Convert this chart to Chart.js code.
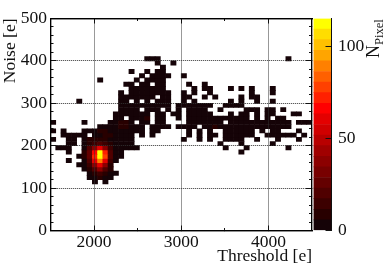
<!DOCTYPE html>
<html><head><meta charset="utf-8">
<script src="https://cdn.jsdelivr.net/npm/chart.js@4/dist/chart.umd.js"></script>
<style>
html,body{margin:0;padding:0;background:#fff;overflow:hidden}
#wrap{position:relative;width:390px;height:265px}
canvas{position:absolute;left:0;top:0}
#ztitle{position:absolute;left:360px;top:14px;height:44px;width:26px;writing-mode:vertical-rl;transform:rotate(180deg);font:18px "Liberation Serif",serif;color:#111;line-height:26px;white-space:nowrap;text-align:left}
#ztitle span{font-size:12.5px;position:relative;left:-6px}
</style></head><body>
<div id="wrap"><canvas id="c" width="390" height="265"></canvas><canvas id="z" width="390" height="265"></canvas>
<div id="ztitle">N<span>Pixel</span></div></div>
<script>
const thresholdStart = 1500, thresholdBinWidth = 60, binCount = 50;
const noiseBinWidth = 10;
const xMajorTicks = [2000, 3000, 4000];
const xMinorTicks = [2500, 3500];
const yMajorTicks = [0, 100, 200, 300, 400, 500];
const zTicks = [0, 50, 100];
const zMax = 115;
const palette = ['#150307','#280000','#3c0000','#500000','#640000','#780000','#8c0000','#a00000','#b80000','#d00000','#e40000','#ff0000','#ff2000','#ff4000','#ff6000','#ff8000','#ffa500','#ffc000','#ffdd00','#ffff00'];
// Noise bin index of each row
const noiseRows = [40,39,38,37,36,35,34,33,32,31,30,29,28,27,26,25,24,23,22,21,20,19,18,17,16,15,14,13,12,11];
// occupied threshold bins in each row, as from,to pairs
const rowRuns = [
 [18,20,45,45],
 [20,20,23,23],
 [21,21],
 [15,15,18,18,20,21],
 [17,17,19,22,25,25],
 [9,9,16,16,18,21],
 [14,15,17,18,20,21,26,26,29,29],
 [15,21,27,27,29,30,34,34,36,36,38,38,42,42],
 [13,13,15,22,25,25,27,27,30,30,38,38,42,42],
 [13,19,21,22,25,26,29,29,31,31,36,36,38,39],
 [5,5,13,14,16,16,18,18,20,22,25,25,27,27,34,34,36,36,39,39,42,42],
 [13,22,24,30,33,36],
 [13,16,18,20,22,22,24,24,26,29,32,32,37,39,41,42,44,44],
 [12,18,20,21,23,24,26,30,34,34,36,37,39,39,41,42,46,47],
 [12,13,15,18,20,21,24,24,26,37,39,39,41,41,43,44],
 [0,0,6,6,11,15,17,18,20,21,26,32,34,45,47,49],
 [9,17,19,22,24,27,29,45],
 [0,0,2,2,6,17,19,20,26,26,28,28,30,30,33,38,40,40,42,43,47,47],
 [2,6,8,15,17,17,19,19,26,26,28,28,30,31,33,38,41,46,48,48],
 [0,0,3,4,6,15,25,25,28,28,30,30,33,36,39,39,43,43,47,47],
 [3,4,6,15,32,32,36,36,42,42],
 [1,3,6,16,33,33,37,37,45,45],
 [3,3,6,13,36,36],
 [5,13],
 [3,3,6,12],
 [5,11],
 [6,11],
 [7,12],
 [7,11],
 [8,8,10,10]
];
const typicalCount = 2;
// counts around the peak
const peakCols = [5,6,7,8,9,10,11,12,13];
const peakRows = [21,20,19,18,17,16,15,14,13,12];
const peakCounts = [
 [0,3,6,8,10,8,5,3,2],
 [0,3,10,15,22,14,8,4,2],
 [0,5,18,35,62,35,14,5,2],
 [0,6,24,65,110,72,20,5,1],
 [1,6,26,72,112,78,20,4,1],
 [0,4,18,58,90,62,14,3,0],
 [1,3,14,40,58,35,10,0,0],
 [0,2,8,22,38,20,6,0,0],
 [0,0,4,10,16,8,3,1,0],
 [0,0,2,5,6,3,1,0,0]
];
// slightly raised cells: row, column, count
const warmCells = [[25,13,8],[25,14,8],[24,13,8],[24,14,9],[24,31,9],[26,18,6],[23,9,8],[23,10,8],[22,10,7],[22,11,7]];

function colorFor(v){return palette[Math.min(palette.length-1,Math.floor(v/(zMax/palette.length)))];}
const thresholdBins = Array.from({length:binCount},(_,i)=>thresholdStart+i*thresholdBinWidth);
function cellValue(r,c){
  const pr=peakRows.indexOf(r), pc=peakCols.indexOf(c);
  if(pr>=0&&pc>=0&&peakCounts[pr][pc]>0) return peakCounts[pr][pc];
  const w=warmCells.find(a=>a[0]===r&&a[1]===c);
  return w?w[2]:typicalCount;
}
const datasets = noiseRows.map((r,i)=>{
  const data=new Array(binCount).fill(null), colors=new Array(binCount).fill('rgba(0,0,0,0)');
  const runs=rowRuns[i];
  for(let k=0;k<runs.length;k+=2)for(let c=runs[k];c<=runs[k+1];c++){
    data[c]=[r*noiseBinWidth,(r+1)*noiseBinWidth];
    colors[c]=colorFor(cellValue(r,c));
  }
  return {label:'Noise '+r*noiseBinWidth,data,backgroundColor:colors,borderWidth:0,xAxisID:'xCat',yAxisID:'y'};
});
const FONT={family:'"Liberation Serif",serif',size:17.5};
const TITLEFONT={family:'"Liberation Serif",serif',size:17.5,lineHeight:1};
const INK='#111';
const L=50.5,R=78,T=18.5,B=34.5;
const major=(ticks)=>(s)=>{s.ticks=ticks.map(v=>({value:v}));};
function sizer(prop,val){return s=>{s[prop]=val;s.paddingTop=0;s.paddingBottom=0;s.paddingLeft=0;s.paddingRight=0;};}
function axis(o){return Object.assign({type:'linear',display:true,offset:false},o);}
function gridOpts(len,lines){return {z:1,offset:false,drawOnChartArea:lines,drawTicks:true,tickLength:len,tickColor:INK,tickWidth:1,color:'#333',lineWidth:1};}
const bord=(dash)=>({display:true,color:'#000',width:1.2,z:2,dash:dash||[]});
const noLabels={display:false};
new Chart(document.getElementById('c'),{
  type:'bar',
  data:{labels:thresholdBins,datasets},
  options:{
    responsive:false,animation:false,events:[],devicePixelRatio:1,
    layout:{padding:0},
    plugins:{legend:{display:false},tooltip:{enabled:false}},
    datasets:{bar:{grouped:false,barPercentage:1,categoryPercentage:1}},
    scales:{
      xCat:{type:'category',display:false,position:'bottom',offset:true},
      x:axis({position:'bottom',weight:1,min:1500,max:4500,afterBuildTicks:major(xMajorTicks),afterFit:sizer('height',B),
        grid:gridOpts(-5,true),border:bord([1,1]),
        ticks:{font:FONT,color:INK,padding:6,maxRotation:0,autoSkip:false,callback:v=>String(v)},
        title:{display:true,text:'Threshold [e]',align:'end',font:TITLEFONT,color:INK,padding:{top:0,bottom:0}}}),
      xMinor:axis({position:'bottom',weight:0,min:1500,max:4500,afterBuildTicks:major(xMinorTicks),afterFit:sizer('height',0),
        grid:gridOpts(-2.5,false),border:bord(),ticks:noLabels}),
      xTop:axis({position:'top',weight:1,min:1500,max:4500,afterBuildTicks:major(xMajorTicks),afterFit:sizer('height',T),
        grid:gridOpts(-5,false),border:bord(),ticks:noLabels}),
      xTopMinor:axis({position:'top',weight:0,min:1500,max:4500,afterBuildTicks:major(xMinorTicks),afterFit:sizer('height',0),
        grid:gridOpts(-2.5,false),border:bord(),ticks:noLabels}),
      y:axis({position:'left',weight:1,min:0,max:500,afterBuildTicks:major(yMajorTicks),afterFit:sizer('width',L),
        grid:gridOpts(-6,true),border:bord([1,1]),
        ticks:{font:FONT,color:INK,padding:9.5,autoSkip:false,callback:v=>String(v)},
        title:{display:true,text:'Noise [e]',align:'end',font:FONT,color:INK,padding:{top:0,bottom:0}}}),
      yMinor:axis({position:'left',weight:0,min:0,max:500,afterFit:sizer('width',0),ticks:{display:false,stepSize:20},
        grid:gridOpts(-3,false),border:bord()}),
      yRight:axis({position:'right',weight:1,min:0,max:500,afterBuildTicks:major(yMajorTicks),afterFit:sizer('width',R),
        grid:gridOpts(-6,false),border:bord(),ticks:noLabels}),
      yRightMinor:axis({position:'right',weight:0,min:0,max:500,afterFit:sizer('width',0),ticks:{display:false,stepSize:20},
        grid:gridOpts(-3,false),border:bord()})
    }
  }
});
const zStep=zMax/palette.length;
new Chart(document.getElementById('z'),{
  type:'bar',
  data:{labels:['z'],datasets:palette.map((col,i)=>({label:'band '+i,data:[[i*zStep,(i+1)*zStep]],backgroundColor:col,borderWidth:0,xAxisID:'zx',yAxisID:'zy'}))},
  options:{
    responsive:false,animation:false,events:[],devicePixelRatio:1,layout:{padding:0},
    plugins:{legend:{display:false},tooltip:{enabled:false}},
    datasets:{bar:{grouped:false,barPercentage:1,categoryPercentage:1}},
    scales:{
      zx:{type:'category',display:false,offset:true},
      zTopPad:axis({position:'top',min:0,max:1,afterFit:sizer('height',T),grid:{display:false},border:{display:false},ticks:{display:false}}),
      zBotPad:axis({position:'bottom',min:0,max:1,afterFit:sizer('height',B),grid:{display:false},border:{display:false},ticks:{display:false}}),
      zLeftPad:axis({position:'left',min:0,max:1,afterFit:sizer('width',313.5),grid:{display:false},border:{display:false},ticks:{display:false}}),
      zy:axis({position:'right',min:0,max:zMax,grace:0,beginAtZero:false,afterBuildTicks:major(zTicks),afterFit:sizer('width',58.5),
        grid:{z:1,offset:false,drawOnChartArea:false,drawTicks:true,tickLength:-6,tickColor:INK,tickWidth:1},
        border:{display:true,color:'#111',width:1,z:2},
        ticks:{font:FONT,color:INK,padding:12.5,autoSkip:false,callback:v=>String(v)}})
    }
  }
});
</script></body></html>
